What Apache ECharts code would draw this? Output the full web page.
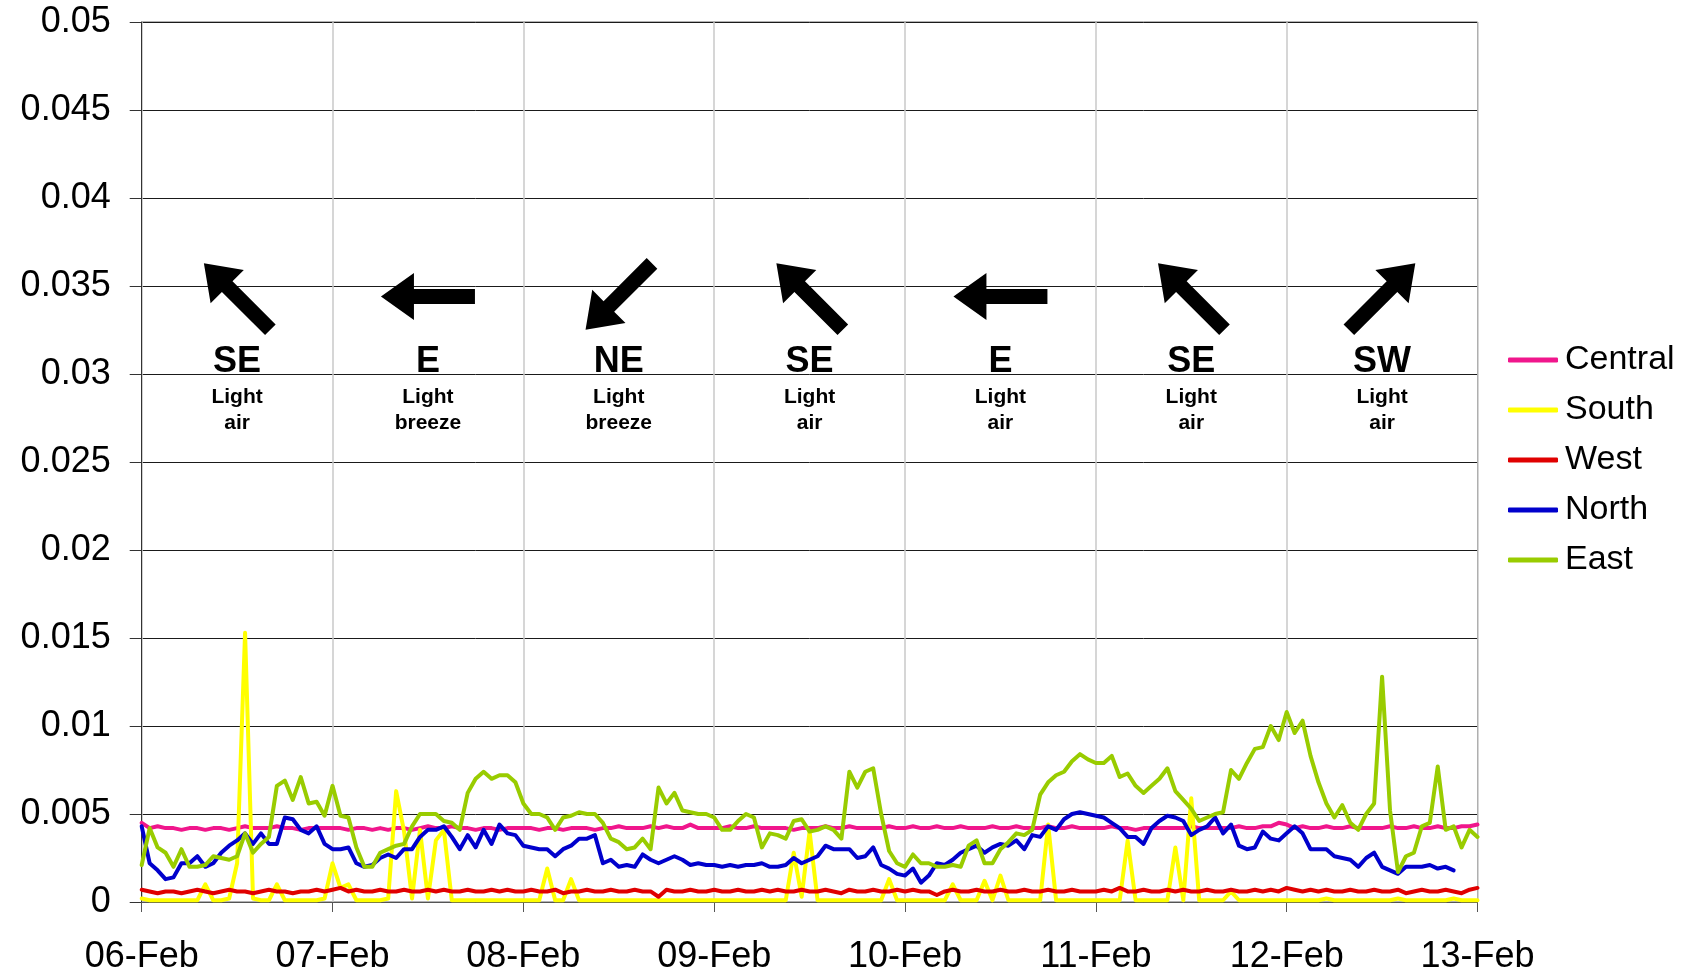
<!DOCTYPE html>
<html>
<head>
<meta charset="utf-8">
<style>
    html, body { margin: 0; padding: 0; background: #fff; }
    #chart { width: 1686px; height: 975px; }
</style>
<script src="https://cdn.jsdelivr.net/npm/echarts@6/dist/echarts.min.js"></script>
</head>
<body>
<div id="chart"></div>
<script>
// Hourly readings from 06-Feb 00:00 to 13-Feb 00:00 (169 points per series)
var dayLabels = ["06-Feb", "07-Feb", "08-Feb", "09-Feb", "10-Feb", "11-Feb", "12-Feb", "13-Feb"];

var central = [
    0.0045,0.0042,0.0043,0.0042,0.0042,0.0041,0.0042,0.0042,0.0041,0.0042,0.0042,0.0041,0.0042,0.0043,0.0042,0.0042,0.0042,0.0043,0.0042,0.0042,0.0041,0.0042,0.0042,0.0042,
    0.0042,0.0042,0.0041,0.0042,0.0042,0.0041,0.0042,0.0041,0.0042,0.0042,0.0041,0.0042,0.0043,0.0042,0.0042,0.0043,0.0042,0.0042,0.0041,0.0042,0.0042,0.0041,0.0042,0.0042,
    0.0042,0.0042,0.0041,0.0042,0.0042,0.0041,0.0042,0.0042,0.0042,0.0041,0.0042,0.0042,0.0043,0.0042,0.0042,0.0042,0.0043,0.0042,0.0043,0.0042,0.0042,0.0044,0.0042,0.0042,
    0.0042,0.0042,0.0043,0.0042,0.0042,0.0043,0.0042,0.0042,0.0042,0.0042,0.0041,0.0042,0.0042,0.0042,0.0043,0.0042,0.0042,0.0043,0.0042,0.0042,0.0042,0.0042,0.0043,0.0042,
    0.0042,0.0043,0.0042,0.0042,0.0043,0.0042,0.0042,0.0043,0.0042,0.0042,0.0042,0.0043,0.0042,0.0042,0.0043,0.0042,0.0042,0.0042,0.0043,0.0042,0.0042,0.0043,0.0042,0.0042,
    0.0042,0.0042,0.0043,0.0042,0.0042,0.0041,0.0042,0.0042,0.0042,0.0042,0.0042,0.0042,0.0043,0.0042,0.0042,0.0042,0.0042,0.0042,0.0043,0.0042,0.0042,0.0043,0.0043,0.0045,
    0.0044,0.0042,0.0043,0.0042,0.0042,0.0043,0.0042,0.0042,0.0043,0.0042,0.0042,0.0042,0.0042,0.0043,0.0042,0.0042,0.0043,0.0042,0.0042,0.0043,0.0042,0.0042,0.0043,0.0043,
    0.0044
];

var south = [
    0.0002,0.0001,0.0001,0.0001,0.0001,0.0001,0.0001,0.0001,0.0010,0.0001,0.0001,0.0002,0.0022,0.0153,0.0002,0.0001,0.0001,0.0010,0.0001,0.0001,0.0001,0.0001,0.0001,0.0002,
    0.0022,0.0008,0.0010,0.0001,0.0001,0.0001,0.0001,0.0002,0.0063,0.0040,0.0002,0.0041,0.0002,0.0035,0.0041,0.0001,0.0001,0.0001,0.0001,0.0001,0.0001,0.0001,0.0001,0.0001,
    0.0001,0.0001,0.0001,0.0019,0.0001,0.0001,0.0013,0.0001,0.0001,0.0001,0.0001,0.0001,0.0001,0.0001,0.0001,0.0001,0.0001,0.0001,0.0001,0.0001,0.0001,0.0001,0.0001,0.0001,
    0.0001,0.0001,0.0001,0.0001,0.0001,0.0001,0.0001,0.0001,0.0001,0.0001,0.0028,0.0003,0.0040,0.0001,0.0001,0.0001,0.0001,0.0001,0.0001,0.0001,0.0001,0.0001,0.0013,0.0001,
    0.0001,0.0001,0.0001,0.0001,0.0001,0.0001,0.0010,0.0001,0.0001,0.0001,0.0012,0.0001,0.0015,0.0001,0.0001,0.0001,0.0001,0.0001,0.0044,0.0001,0.0001,0.0001,0.0001,0.0001,
    0.0001,0.0001,0.0001,0.0001,0.0035,0.0001,0.0001,0.0001,0.0001,0.0001,0.0031,0.0001,0.0059,0.0001,0.0001,0.0001,0.0001,0.0006,0.0001,0.0001,0.0001,0.0001,0.0001,0.0001,
    0.0001,0.0001,0.0001,0.0001,0.0001,0.0002,0.0001,0.0001,0.0001,0.0001,0.0001,0.0001,0.0001,0.0001,0.0002,0.0001,0.0001,0.0001,0.0001,0.0001,0.0001,0.0002,0.0001,0.0001,
    0.0001
];

var west = [
    0.0007,0.0006,0.0005,0.0006,0.0006,0.0005,0.0006,0.0007,0.0006,0.0005,0.0006,0.0007,0.0006,0.0006,0.0005,0.0006,0.0007,0.0006,0.0006,0.0005,0.0006,0.0006,0.0007,0.0006,
    0.0007,0.0008,0.0006,0.0007,0.0006,0.0006,0.0007,0.0006,0.0006,0.0007,0.0006,0.0006,0.0007,0.0006,0.0007,0.0006,0.0006,0.0007,0.0006,0.0006,0.0007,0.0006,0.0007,0.0006,
    0.0006,0.0007,0.0006,0.0006,0.0007,0.0005,0.0006,0.0006,0.0007,0.0006,0.0006,0.0007,0.0006,0.0006,0.0007,0.0006,0.0006,0.0003,0.0007,0.0006,0.0006,0.0007,0.0006,0.0006,
    0.0007,0.0006,0.0006,0.0007,0.0006,0.0006,0.0007,0.0006,0.0007,0.0006,0.0006,0.0007,0.0006,0.0006,0.0007,0.0006,0.0005,0.0007,0.0006,0.0006,0.0007,0.0006,0.0006,0.0007,
    0.0006,0.0007,0.0006,0.0006,0.0004,0.0006,0.0007,0.0006,0.0006,0.0007,0.0006,0.0006,0.0007,0.0006,0.0006,0.0007,0.0006,0.0006,0.0007,0.0006,0.0006,0.0007,0.0006,0.0006,
    0.0006,0.0007,0.0006,0.0008,0.0006,0.0006,0.0007,0.0006,0.0006,0.0007,0.0006,0.0007,0.0006,0.0006,0.0007,0.0006,0.0006,0.0007,0.0006,0.0006,0.0007,0.0006,0.0007,0.0006,
    0.0008,0.0007,0.0006,0.0007,0.0006,0.0007,0.0006,0.0006,0.0007,0.0006,0.0006,0.0007,0.0006,0.0006,0.0007,0.0005,0.0006,0.0007,0.0006,0.0006,0.0007,0.0006,0.0005,0.0007,
    0.0008
];

var north = [
    0.0043,0.0022,0.0018,0.0013,0.0014,0.0022,0.0022,0.0026,0.0020,0.0022,0.0028,0.0032,0.0035,0.0039,0.0033,0.0039,0.0033,0.0033,0.0048,0.0047,0.0041,0.0039,0.0043,0.0033,
    0.0030,0.0030,0.0031,0.0022,0.0020,0.0021,0.0025,0.0027,0.0025,0.0030,0.0030,0.0037,0.0041,0.0041,0.0043,0.0037,0.0030,0.0038,0.0031,0.0041,0.0033,0.0044,0.0039,0.0038,
    0.0032,0.0031,0.0030,0.0030,0.0026,0.0030,0.0032,0.0036,0.0036,0.0038,0.0022,0.0024,0.0020,0.0021,0.0020,0.0027,0.0024,0.0022,0.0024,0.0026,0.0024,0.0021,0.0022,0.0021,
    0.0021,0.0020,0.0021,0.0020,0.0021,0.0021,0.0022,0.0020,0.0020,0.0021,0.0025,0.0022,0.0024,0.0026,0.0032,0.0030,0.0030,0.0030,0.0025,0.0026,0.0031,0.0021,0.0019,0.0016,
    0.0015,0.0019,0.0011,0.0015,0.0022,0.0021,0.0024,0.0028,0.0030,0.0032,0.0028,0.0031,0.0033,0.0032,0.0035,0.0030,0.0038,0.0037,0.0043,0.0041,0.0047,0.0050,0.0051,0.0050,
    0.0049,0.0048,0.0045,0.0042,0.0037,0.0037,0.0033,0.0042,0.0046,0.0049,0.0048,0.0046,0.0038,0.0041,0.0043,0.0048,0.0039,0.0044,0.0032,0.0030,0.0031,0.0040,0.0036,0.0035,
    0.0039,0.0043,0.0039,0.0030,0.0030,0.0030,0.0026,0.0025,0.0024,0.0020,0.0025,0.0028,0.0020,0.0018,0.0016,0.0020,0.0020,0.0020,0.0021,0.0019,0.0020,0.0018,null,null,
    null
];

var east = [
    0.0021,0.0042,0.0031,0.0028,0.0020,0.0030,0.0020,0.0020,0.0021,0.0026,0.0025,0.0024,0.0026,0.0039,0.0028,0.0033,0.0037,0.0066,0.0069,0.0058,0.0071,0.0056,0.0057,0.0049,
    0.0066,0.0049,0.0048,0.0031,0.0020,0.0020,0.0028,0.0030,0.0032,0.0033,0.0043,0.0050,0.0050,0.0050,0.0046,0.0045,0.0041,0.0062,0.0070,0.0074,0.0070,0.0072,0.0072,0.0068,
    0.0056,0.0050,0.0050,0.0048,0.0041,0.0048,0.0049,0.0051,0.0050,0.0050,0.0045,0.0036,0.0034,0.0030,0.0031,0.0036,0.0030,0.0065,0.0056,0.0062,0.0052,0.0051,0.0050,0.0050,
    0.0048,0.0041,0.0041,0.0046,0.0050,0.0048,0.0031,0.0039,0.0038,0.0036,0.0046,0.0047,0.0040,0.0041,0.0043,0.0041,0.0036,0.0074,0.0065,0.0074,0.0076,0.0050,0.0029,0.0022,
    0.0020,0.0027,0.0022,0.0022,0.0020,0.0020,0.0021,0.0020,0.0032,0.0035,0.0022,0.0022,0.0030,0.0034,0.0039,0.0038,0.0041,0.0061,0.0068,0.0072,0.0074,0.0080,0.0084,0.0081,
    0.0079,0.0079,0.0083,0.0071,0.0073,0.0066,0.0062,0.0066,0.0070,0.0076,0.0063,0.0058,0.0053,0.0046,0.0048,0.0050,0.0051,0.0075,0.0070,0.0079,0.0087,0.0088,0.0100,0.0092,
    0.0108,0.0096,0.0103,0.0083,0.0068,0.0056,0.0048,0.0055,0.0045,0.0041,0.0050,0.0056,0.0128,0.0052,0.0017,0.0026,0.0028,0.0043,0.0045,0.0077,0.0041,0.0043,0.0031,0.0041,
    0.0037
];

// Wind notes, one per day at midday (hours since 06-Feb 00:00)
var windHours = [12, 36, 60, 84, 108, 132, 156];
var windDirs = ["SE", "E", "NE", "SE", "E", "SE", "SW"];
var windForce = ["Light air", "Light breeze", "Light breeze", "Light air", "Light air", "Light air", "Light air"];

var FONT = "'Liberation Sans', Arial, sans-serif";
var bearings = { N: 0, NE: 45, E: 90, SE: 135, S: 180, SW: 225, W: 270, NW: 315 };
var arrowLevel = 0.0344;
var labelLevel = 0.02922;

/**
 * Turns a series into [hour, value] pairs.
 */
function toPairs(values) {
    return values.map(function (v, i) { return [i, v]; });
}

/**
 * Arrow points where the wind blows to; symbolRotate turns counterclockwise.
 */
function arrowRotation(dir) {
    return -((bearings[dir] + 180) % 360);
}

function lineSeries(name, values, color) {
    return {
        name: name,
        type: "line",
        data: toPairs(values),
        showSymbol: false,
        symbol: "none",
        connectNulls: false,
        lineStyle: { color: color, width: 4, join: "round", cap: "round" },
        itemStyle: { color: color },
        silent: true,
    };
}

var chart = echarts.init(document.getElementById("chart"));

var options = {
    animation: false,
    backgroundColor: "#fff",
    textStyle: { fontFamily: FONT },
    grid: {
        left: 141.7,
        right: 208.5,
        top: 22,
        bottom: 73,
        show: true,
        borderColor: "#666",
        borderWidth: 1,
    },
    legend: {
        data: ["Central", "South", "West", "North", "East"],
        orient: "vertical",
        left: 1503,
        top: 338,
        itemWidth: 50,
        itemHeight: 5,
        itemGap: 16,
        icon: "roundRect",
        textStyle: { fontSize: 34, color: "#000", fontFamily: FONT, padding: [0, 0, 0, 2] },
    },
    xAxis: {
        type: "value",
        min: 0,
        max: 168,
        interval: 24,
        axisLine: { show: true, lineStyle: { color: "#555", width: 1 } },
        axisTick: { show: true, length: 10, lineStyle: { color: "#555" } },
        axisLabel: {
            fontSize: 36,
            color: "#000",
            fontFamily: FONT,
            margin: 37,
            formatter: function (v) { return dayLabels[Math.round(v / 24)]; },
        },
        splitLine: { show: true, lineStyle: { color: "#c8c8c8", width: 1.5 } },
    },
    yAxis: {
        type: "value",
        min: 0,
        max: 0.05,
        interval: 0.005,
        axisLine: { show: true, lineStyle: { color: "#333", width: 1 } },
        axisTick: { show: true, length: 12, lineStyle: { color: "#333" } },
        axisLabel: { fontSize: 36, color: "#000", fontFamily: FONT, margin: 31 },
        splitLine: { show: true, lineStyle: { color: "#1a1a1a", width: 1 } },
    },
    series: [
        lineSeries("Central", central, "#f0168c"),
        lineSeries("South", south, "#ffff00"),
        lineSeries("West", west, "#e00000"),
        lineSeries("North", north, "#0000cc"),
        lineSeries("East", east, "#99cc00"),
        {
            // Wind arrows
            type: "scatter",
            silent: true,
            z: 5,
            symbol: "path://M23.5,0 L47,33 L31,33 L31,94 L16,94 L16,33 L0,33 Z",
            symbolSize: [47, 94],
            itemStyle: { color: "#000", opacity: 1 },
            data: windHours.map(function (h, i) {
                return { value: [h, arrowLevel], symbolRotate: arrowRotation(windDirs[i]) };
            }),
        },
        {
            // Wind labels
            type: "scatter",
            silent: true,
            z: 5,
            symbolSize: 1,
            itemStyle: { color: "rgba(0,0,0,0)", opacity: 1 },
            data: windHours.map(function (h) { return [h, labelLevel]; }),
            label: {
                show: true,
                position: "inside",
                align: "center",
                verticalAlign: "middle",
                color: "#000",
                opacity: 1,
                textBorderWidth: 0,
                textShadowBlur: 0,
                formatter: function (p) {
                    var words = windForce[p.dataIndex].split(" ");
                    return "{d|" + windDirs[p.dataIndex] + "}\n{s|" + words[0] + "}\n{s|" + words[1] + "}";
                },
                rich: {
                    d: { fontSize: 36, fontWeight: "bold", lineHeight: 44, color: "#000", textBorderWidth: 0, fontFamily: FONT, align: "center" },
                    s: { fontSize: 21, fontWeight: "bold", lineHeight: 26, color: "#000", textBorderWidth: 0, fontFamily: FONT, align: "center" },
                },
            },
        },
    ],
};

chart.setOption(options);
</script>
</body>
</html>
